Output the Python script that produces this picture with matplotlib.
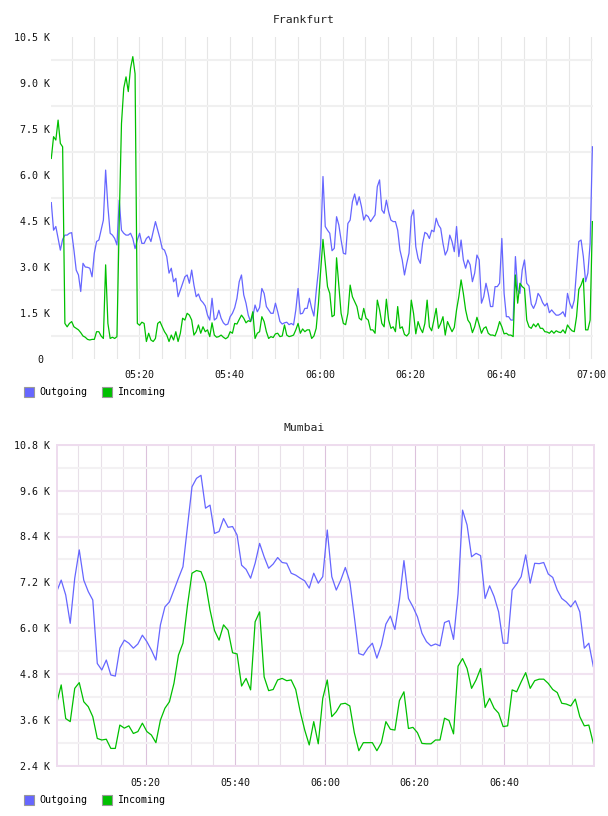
import numpy as np
import pandas as pd
import matplotlib
matplotlib.use("Agg")
import matplotlib.pyplot as plt
import matplotlib.dates as mdates
from matplotlib.patches import Patch
from matplotlib.ticker import FixedLocator, FuncFormatter

# ---- Frankfurt (values in K, one sample about every 30 s) ----
fra_start, fra_end = "2024-01-01 05:00:31", "2024-01-01 07:00:12"
fra_out = [
    5.10, 4.2, 4.32, 3.93, 3.55, 3.9, 4.04, 4.04, 4.1, 4.12,
    3.55, 2.9, 2.74, 2.2, 3.12, 3.0, 2.99, 2.96, 2.68, 3.45,
    3.83, 3.88, 4.2, 4.53, 6.16, 4.97, 4.1, 4.04, 3.93, 3.72,
    5.18, 4.2, 4.1, 4.04, 4.04, 4.1, 3.93, 3.6, 3.88, 4.1,
    3.77, 3.77, 3.93, 4.0, 3.83, 4.15, 4.48, 4.2, 3.93, 3.6,
    3.55, 3.34, 2.8, 2.96, 2.52, 2.63, 2.03, 2.25, 2.47, 2.68,
    2.74, 2.47,
    2.9, 2.41, 2.03, 2.12, 1.92, 1.84, 1.73, 1.43, 1.27, 1.98,
    1.27, 1.33, 1.59, 1.33, 1.18, 1.11, 1.14, 1.38, 1.49, 1.67,
    1.98, 2.52, 2.74, 2.09, 1.82, 1.43, 1.22, 1.38, 1.76, 1.54,
    1.68, 2.3, 2.14, 1.71, 1.6, 1.49, 1.49, 1.82, 1.54, 1.22,
    1.14, 1.18, 1.2, 1.12, 1.16, 1.11, 1.6, 2.3, 1.47, 1.49,
    1.65, 1.65, 1.98, 1.65, 1.4, 2.2, 2.9, 3.77, 5.95, 4.32,
    4.2,
    4.1, 3.53, 3.61, 4.64, 4.37, 3.88, 3.45, 3.42, 4.42, 4.53,
    5.13, 5.38, 5.02, 5.29, 4.97, 4.53, 4.7, 4.64, 4.48, 4.59,
    4.7, 5.62, 5.84, 4.86, 4.75, 5.18, 4.8, 4.53, 4.48, 4.48,
    4.2, 3.55, 3.23, 2.74, 3.12, 3.45, 4.64, 4.86, 3.66, 3.28,
    3.12, 3.77, 4.13, 4.08, 3.93, 4.2, 4.15, 4.59, 4.37, 4.26,
    3.77, 3.39, 3.55, 4.04, 3.83, 3.5, 4.32, 3.34, 3.88, 3.23,
    2.96,
    3.23, 3.07, 2.52, 2.8, 3.39, 3.23, 1.82, 2.03, 2.47, 2.14,
    1.71, 1.71, 2.36, 2.36, 2.47, 3.93, 2.14, 1.38, 1.38, 1.27,
    1.27, 3.34, 2.25, 2.14, 2.9, 3.23, 2.47, 2.38, 1.79, 1.65,
    1.82, 2.14, 2.03, 1.84, 1.73, 1.82, 1.51, 1.6, 1.51, 1.43,
    1.43, 1.47, 1.54, 1.38, 2.14, 1.82, 1.65, 1.92, 2.9, 3.83,
    3.88, 3.34, 2.52, 2.8, 3.77, 6.92,
]
fra_in = [
    6.54, 7.25, 7.14, 7.79, 7.03, 6.92, 1.16, 1.05, 1.16, 1.22,
    1.05, 1.0, 0.95, 0.86, 0.75, 0.71, 0.64, 0.62, 0.64, 0.64,
    0.89, 0.89, 0.75, 0.67, 3.07, 1.16, 0.67, 0.71, 0.67, 0.73,
    4.5, 7.68, 8.83, 9.2, 8.72, 9.48, 9.86, 9.3, 1.16, 1.1,
    1.2, 1.16, 0.57, 0.84, 0.62, 0.57, 0.67, 1.16, 1.22, 1.05,
    0.89, 0.78, 0.57, 0.78, 0.62, 0.89, 0.57, 0.84, 1.33, 1.27,
    1.49, 1.43,
    1.27, 0.78, 0.89, 1.11, 0.84, 1.05, 0.89, 0.95, 0.73, 1.18,
    0.78, 0.71, 0.73, 0.78, 0.71, 0.66, 0.71, 0.89, 0.84, 1.16,
    1.14, 1.29, 1.43, 1.33, 1.18, 1.25, 1.22, 1.54, 0.67, 0.84,
    0.89, 1.38, 1.22, 0.89, 0.67, 0.73, 0.7, 0.82, 0.84, 0.73,
    0.75, 1.11, 0.78, 0.73, 0.75, 0.78, 0.95, 1.16, 0.84, 0.98,
    0.89, 0.95, 0.95, 0.67, 0.75, 1.0, 1.82, 2.9, 3.9, 3.12,
    2.36,
    2.14, 1.38, 1.43, 3.3, 2.4, 1.49, 1.16, 1.12, 1.49, 2.41,
    2.03, 1.87, 1.71, 1.33, 1.27, 1.65, 1.33, 1.27, 0.95, 0.95,
    0.84, 1.92, 1.6, 1.16, 1.05, 1.95, 1.27, 1.0, 1.05, 0.89,
    1.71, 1.0, 1.05, 0.8, 0.75, 0.84, 1.92, 1.49, 0.82, 1.22,
    1.0, 0.86, 1.16, 1.92, 1.05, 0.92, 1.27, 1.65, 1.0, 1.16,
    1.38, 0.78, 1.22, 1.05, 0.89, 1.03, 1.6, 2.03, 2.58, 2.14,
    1.6,
    1.27, 1.16, 0.86, 1.05, 1.36, 1.11, 0.84, 1.0, 1.05, 0.84,
    0.78, 0.78, 0.75, 0.95, 1.22, 1.05, 0.82, 0.84, 0.78, 0.78,
    0.73, 2.74, 1.82, 2.47, 2.36, 2.3, 1.27, 1.05, 1.0, 1.14,
    1.05, 1.16, 1.0, 1.0, 0.89, 0.88, 0.84, 0.92, 0.84, 0.92,
    0.88, 0.86, 0.95, 0.84, 1.11, 1.0, 0.92, 0.89, 1.38, 2.27,
    2.41, 2.63, 0.95, 0.95, 1.27, 4.48,
]

# ---- Mumbai (values in K, one sample per minute) ----
mum_start, mum_end = "2024-01-01 05:00:09", "2024-01-01 06:59:50"
mum_out = [
    6.96, 7.26, 6.87, 6.13, 7.31, 8.05, 7.26, 6.96, 6.74, 5.08,
    4.91, 5.17, 4.78, 4.75, 5.48, 5.69, 5.61, 5.48, 5.59, 5.82,
    5.65, 5.43, 5.17, 6.09, 6.56, 6.69, 7.0, 7.31, 7.61, 8.66,
    9.7, 9.92, 10.0, 9.14, 9.22, 8.48, 8.53, 8.87, 8.64, 8.66,
    8.44, 7.65, 7.54, 7.31, 7.7, 8.22, 7.87, 7.57, 7.68, 7.85,
    7.72, 7.7, 7.44, 7.39, 7.31,
    7.24, 7.05, 7.44, 7.18, 7.35, 8.57, 7.35, 7.0, 7.26, 7.59,
    7.22, 6.3, 5.34, 5.3, 5.48, 5.61, 5.22, 5.56, 6.11, 6.32,
    5.97, 6.74, 7.77, 6.78, 6.56, 6.3, 5.87, 5.65, 5.54, 5.59,
    5.54, 6.15, 6.2, 5.71, 6.9, 9.09, 8.7, 7.87, 7.96, 7.9,
    6.78, 7.11, 6.83, 6.43, 5.61, 5.61, 7.0, 7.16, 7.35, 7.92,
    7.18, 7.7, 7.69, 7.72, 7.42, 7.33, 7.0, 6.78, 6.69, 6.56,
    6.72, 6.43, 5.48, 5.61, 5.0,
]
mum_in = [
    4.04, 4.52, 3.64, 3.56, 4.43, 4.58, 4.08, 3.95, 3.69, 3.12,
    3.08, 3.1, 2.86, 2.86, 3.47, 3.39, 3.45, 3.25, 3.3, 3.52,
    3.3, 3.21, 3.01, 3.6, 3.91, 4.08, 4.56, 5.3, 5.61, 6.6,
    7.44, 7.51, 7.48, 7.18, 6.48, 5.94, 5.69, 6.09, 5.95, 5.36,
    5.33, 4.49, 4.69, 4.39, 6.17, 6.43, 4.73, 4.37, 4.4, 4.65,
    4.69, 4.63, 4.65, 4.4, 3.82,
    3.34, 2.95, 3.56, 2.98, 4.17, 4.65, 3.69, 3.82, 4.02, 4.04,
    3.97, 3.27, 2.8, 3.01, 3.01, 3.01, 2.8, 3.01, 3.56, 3.36,
    3.34, 4.11, 4.34, 3.38, 3.41, 3.27, 2.99, 2.98, 2.98, 3.08,
    3.08, 3.65, 3.59, 3.24, 5.01, 5.21, 4.95, 4.43, 4.65, 4.95,
    3.93, 4.17, 3.91, 3.78, 3.43, 3.45, 4.39, 4.34, 4.6, 4.84,
    4.43, 4.63, 4.67, 4.67, 4.56, 4.4, 4.32, 4.04, 4.02, 3.97,
    4.15, 3.69, 3.45, 3.47, 2.99,
]

fra_yticks = [0, 1.5, 3.0, 4.5, 6.0, 7.5, 9.0, 10.5]
mum_yticks = [2.4, 3.6, 4.8, 6.0, 7.2, 8.4, 9.6, 10.8]
series_names = ["Outgoing", "Incoming"]

BLUE = "#6666ff"
GREEN = "#00c000"
MONO = "DejaVu Sans Mono"
FS = 7.2

fra_t = pd.date_range(fra_start, fra_end, periods=len(fra_out))
mum_t = pd.date_range(mum_start, mum_end, periods=len(mum_out))


def kfmt(v, pos):
    if abs(v) < 1e-9:
        return "0 "
    return f"{v:.1f} K"


fig = plt.figure(figsize=(6.08, 8.16), dpi=100)
W, H = 608, 816

# ---------------- Frankfurt ----------------
ax1 = fig.add_axes([51 / W, 1 - 359 / H, 542 / W, 322 / H])
ax1.plot(fra_t, fra_out, color=BLUE, lw=0.9)
ax1.plot(fra_t, fra_in, color=GREEN, lw=0.9)
ax1.set_xlim(pd.Timestamp("2024-01-01 05:00:27"), pd.Timestamp("2024-01-01 07:00:20"))
ax1.set_ylim(0, 10.5)
ax1.yaxis.set_major_locator(FixedLocator(fra_yticks))
ax1.yaxis.set_major_formatter(FuncFormatter(kfmt))
ax1.yaxis.set_minor_locator(FixedLocator([v + 0.75 for v in fra_yticks[:-1]]))
ax1.xaxis.set_major_locator(mdates.MinuteLocator(byminute=[0, 20, 40]))
ax1.xaxis.set_minor_locator(mdates.MinuteLocator(byminute=range(0, 60, 5)))
ax1.xaxis.set_major_formatter(mdates.DateFormatter("%H:%M"))
ax1.grid(False)
ax1.grid(which="minor", axis="y", color="#f0f0f0", lw=1.5)
ax1.grid(which="both", axis="x", color="#e6e6e6", lw=0.8)
ax1.set_axisbelow(True)
for s in ax1.spines.values():
    s.set_visible(False)
ax1.tick_params(which="both", length=0)
ax1.tick_params(axis="y", pad=1)
ax1.tick_params(axis="x", pad=8)

# ---------------- Mumbai ----------------
ax2 = fig.add_axes([56.7 / W, 1 - 766 / H, 537.3 / W, 321.3 / H])
ax2.plot(mum_t, mum_out, color=BLUE, lw=0.9)
ax2.plot(mum_t, mum_in, color=GREEN, lw=0.9)
ax2.set_xlim(pd.Timestamp("2024-01-01 05:00:09"), pd.Timestamp("2024-01-01 06:59:59"))
ax2.set_ylim(2.4, 10.8)
ax2.yaxis.set_major_locator(FixedLocator(mum_yticks))
ax2.yaxis.set_major_formatter(FuncFormatter(kfmt))
ax2.yaxis.set_minor_locator(FixedLocator([v + 0.6 for v in mum_yticks[:-1]]))
ax2.xaxis.set_major_locator(mdates.MinuteLocator(byminute=[0, 20, 40]))
ax2.xaxis.set_minor_locator(mdates.MinuteLocator(byminute=range(0, 60, 5)))
ax2.xaxis.set_major_formatter(mdates.DateFormatter("%H:%M"))
ax2.grid(which="major", axis="y", color="#f1e3f1", lw=1.5)
ax2.grid(which="minor", axis="y", color="#f3f1f3", lw=1.5)
ax2.grid(which="major", axis="x", color="#dcc2dc", lw=0.8)
ax2.grid(which="minor", axis="x", color="#e8e0e8", lw=0.8)
ax2.set_axisbelow(True)
for s in ax2.spines.values():
    s.set_color("#eedcee")
    s.set_linewidth(1.4)
ax2.tick_params(which="both", length=0)
ax2.tick_params(axis="y", pad=5)
ax2.tick_params(axis="x", pad=9)

for ax in (ax1, ax2):
    for lab in ax.get_xticklabels() + ax.get_yticklabels():
        lab.set_fontfamily(MONO)
        lab.set_fontsize(FS)
        lab.set_color("#111111")

# titles
fig.text(0.5, 1 - 20 / H, "Frankfurt", ha="center", va="center",
         family=MONO, fontsize=8.2, color="#222222")
fig.text(0.5, 1 - 428 / H, "Mumbai", ha="center", va="center",
         family=MONO, fontsize=8.2, color="#222222")

# legends
handles = [Patch(facecolor=BLUE, edgecolor="#999999", lw=0.8),
           Patch(facecolor=GREEN, edgecolor="#999999", lw=0.8)]
for ycen in (392, 800):
    fig.legend(handles, series_names, loc="center left",
               bbox_to_anchor=(24 / W, 1 - ycen / H), ncol=2, frameon=False,
               borderpad=0, borderaxespad=0, handlelength=1.0, handleheight=1.15,
               handletextpad=0.5, columnspacing=1.5,
               prop={"family": MONO, "size": FS})

fig.savefig("out.png", dpi=100, facecolor="white")
